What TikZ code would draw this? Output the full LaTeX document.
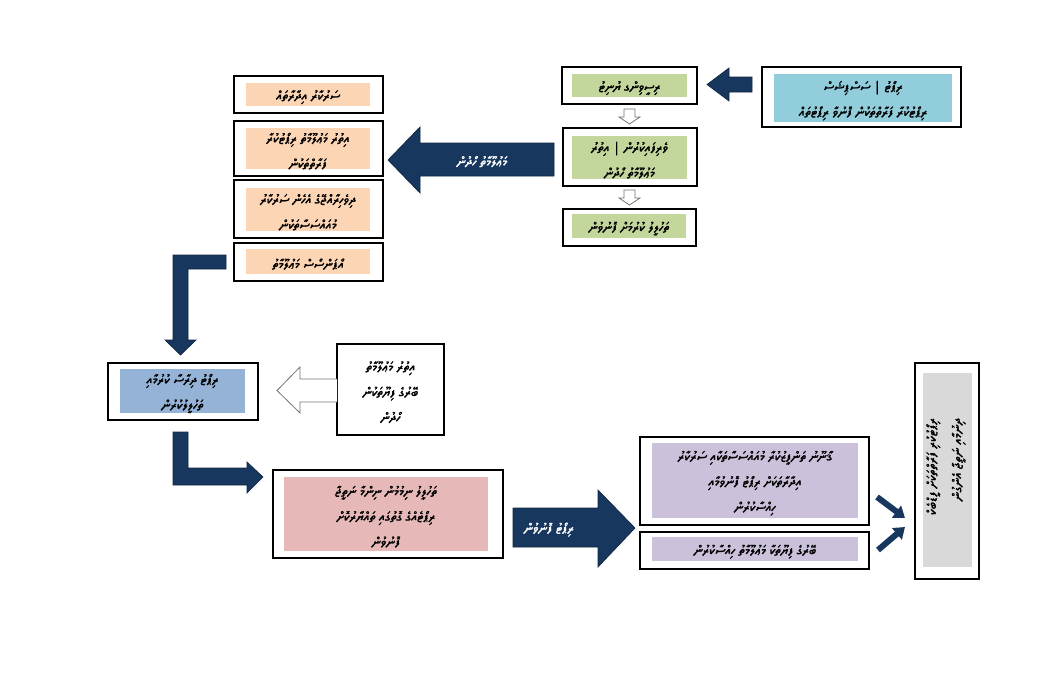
\documentclass[tikz,border=0pt]{standalone}
\usepackage{fontspec}
\usepackage{xcolor}
\usepackage{tikz}
\usetikzlibrary{positioning, calc, fit, arrows.meta}
\TeXXeTstate=1
\IfFontExistsTF{Noto Sans Thaana}
  {\newfontfamily\dvfont[Script=Thaana, AutoFakeBold=1.6]{Noto Sans Thaana}}
  {\newfontfamily\dvfont[Script=Thaana, AutoFakeBold=1.6]{FreeSerif}}
\newcommand{\thaana}[1]{\beginR #1\endR}

\definecolor{arrowblue}{HTML}{17375E}
\definecolor{aquafill}{HTML}{92CDDC}
\definecolor{greenfill}{HTML}{C3D69B}
\definecolor{orangefill}{HTML}{FCD5B5}
\definecolor{bluefill}{HTML}{95B3D7}
\definecolor{pinkfill}{HTML}{E6B9B8}
\definecolor{purplefill}{HTML}{CCC1DA}
\definecolor{grayfill}{HTML}{D9D9D9}

\tikzset{
  box/.style={draw=black, line width=0.8pt, inner sep=0pt},
  fillbox/.style={inner sep=0pt},
  dvtext/.style={inner sep=0pt, align=center, yshift=-2pt,
    font=\dvfont\bfseries\fontsize{10}{19}\selectfont},
  bigarrow/.style={fill=arrowblue, draw=arrowblue!70!black, line width=0.5pt},
  whitearrow/.style={fill=white, draw=black!55, line width=0.6pt},
  arrowtxt/.style={dvtext, text=white}
}

\begin{document}
\begin{tikzpicture}[x=0.75pt, y=-0.75pt]
    \useasboundingbox (0,0) rectangle (1037,693);

    % Reports coming in
    \node[box, fit={(762,67) (961,127)}] (rep) {};
    \node[fillbox, fill=aquafill, fit={(774,74) (952,122)}] (repfill) {};
    \node[dvtext] (reptxt) at (repfill.center)
      {\thaana{ރިޕޯޓު | ސަސްޕިޝަސް}\\\thaana{ރިޕޯޓުކުރާ ފަރާތްތަކުން ފޮނުވާ ރިޕޯޓުތައް}};

    % Green steps
    \node[box, fit={(562,67) (697,104)}] (recv) {};
    \node[fillbox, fill=greenfill, fit={(572,74) (687,97)}] (recvfill) {};
    \node[dvtext] (recvtxt) at (recvfill.center) {\thaana{ރިސީވިންގ ޔުނިޓު}};
    \node[box, fit={(563,128) (697,186)}] (check) {};
    \node[fillbox, fill=greenfill, fit={(572,136) (687,179)}] (checkfill) {};
    \node[dvtext] (checktxt) at (checkfill.center)
      {\thaana{ވެރިފައިކުރުން | އިތުރު}\\\thaana{މަޢުލޫމާތު ހޯދުން}};
    \node[box, fit={(563,209) (696,246)}] (send) {};
    \node[fillbox, fill=greenfill, fit={(572,214) (686,238)}] (sendfill) {};
    \node[dvtext] (sendtxt) at (sendfill.center) {\thaana{ތަހުލީލު ކުރުމަށް ފޮނުވުން}};

    % Orange sources
    \node[box, fit={(234,76) (383,113)}] (srca) {};
    \node[fillbox, fill=orangefill, fit={(246,83) (370,106)}] (srcafill) {};
    \node[dvtext] (srcatxt) at (srcafill.center) {\thaana{ސަރުކާރު އިދާރާތައް}};
    \node[box, fit={(234,121) (383,176)}] (srcb) {};
    \node[fillbox, fill=orangefill, fit={(246,128) (370,169)}] (srcbfill) {};
    \node[dvtext] (srcbtxt) at (srcbfill.center)
      {\thaana{އިތުރު މަޢުލޫމާތު ރިޕޯޓުކުރާ}\\\thaana{ފަރާތްތަކުން}};
    \node[box, fit={(234,180) (383,238)}] (srcc) {};
    \node[fillbox, fill=orangefill, fit={(246,188) (370,231)}] (srccfill) {};
    \node[dvtext] (srcctxt) at (srccfill.center)
      {\thaana{ދިވެހިރާއްޖޭގެ އެހެން ސަރުކާރު}\\\thaana{މުއައްސަސާތަކުން}};
    \node[box, fit={(234,243) (383,281)}] (srcd) {};
    \node[fillbox, fill=orangefill, fit={(246,249) (370,274)}] (srcdfill) {};
    \node[dvtext] (srcdtxt) at (srcdfill.center) {\thaana{އޯޕަންސޯސް މަޢުލޫމާތު}};

    % Analysis
    \node[box, fit={(108,363) (258,420)}] (anl) {};
    \node[fillbox, fill=bluefill, fit={(120,369) (245,413)}] (anlfill) {};
    \node[dvtext] (anltxt) at (anlfill.center)
      {\thaana{ރިޕޯޓު ދިރާސާ ކުރުމާއި}\\\thaana{ތަހުލީލުކުރުން}};
    \node[box, fit={(337,344) (444,435)}] (fiu) {};
    \node[dvtext] (fiutxt) at (fiu.center)
      {\thaana{އިތުރު މަޢުލޫމާތު}\\\thaana{ބޭރުގެ ފިޔޫތަކުން}\\\thaana{ހޯދުން}};

    % Decision
    \node[box, fit={(273,470) (503,558)}] (dec) {};
    \node[fillbox, fill=pinkfill, fit={(284,477) (488,551)}] (decfill) {};
    \node[dvtext] (dectxt) at (decfill.center)
      {\thaana{ތަހުލީލު ނިމުމުން ނިންމާ ނަތީޖާ}\\\thaana{ރިޕޯޓެއްގެ ގޮތުގައި ތައްޔާރުކޮށް}\\\thaana{ފޮނުވުން}};

    % Receivers
    \node[box, fit={(640,437) (869,525)}] (lea) {};
    \node[fillbox, fill=purplefill, fit={(652,443) (858,518)}] (leafill) {};
    \node[dvtext] (leatxt) at (leafill.center)
      {\thaana{ޤާނޫނު ތަންފީޒުކުރާ މުއައްސަސާތަކާއި ސަރުކާރު}\\\thaana{އިދާރާތަކަށް ރިޕޯޓު ފޮނުވުމާއި}\\\thaana{ހިއްސާކުރުން}};
    \node[box, fit={(640,532) (869,569)}] (ffiu) {};
    \node[fillbox, fill=purplefill, fit={(652,537) (858,561)}] (ffiufill) {};
    \node[dvtext] (ffiutxt) at (ffiufill.center)
      {\thaana{ބޭރުގެ ފިޔޫތަކާ މަޢުލޫމާތު ހިއްސާކުރުން}};

    % Feedback
    \node[box, fit={(915,363) (979,579)}] (fb) {};
    \node[fillbox, fill=grayfill, fit={(923,373) (972,567)}] (fbfill) {};
    \node[dvtext, align=right, rotate=90, yshift=0pt] (fbtxt) at (946,464)
      {\thaana{ރިޕޯޓުކުރި ފަރާތްތަކަށް ފީޑްބެކް}\\\thaana{ދިނުމާއި ނަތީޖާ އެންގުން}};

    % Block arrows
    \filldraw[bigarrow] (752,77) -- (729,77) -- (729,68) -- (707,84.5)
      -- (729,101) -- (729,92) -- (752,92) -- cycle;
    \filldraw[whitearrow] (624,109) -- (635,109) -- (635,117) -- (640,117)
      -- (629.5,124) -- (619,117) -- (624,117) -- cycle;
    \filldraw[whitearrow] (624,190) -- (635,190) -- (635,198) -- (640,198)
      -- (629.5,205) -- (619,198) -- (624,198) -- cycle;
    \filldraw[bigarrow] (554,143) -- (420,143) -- (420,127) -- (388,160)
      -- (420,193) -- (420,176) -- (554,176) -- cycle;
    \node[arrowtxt] (reqtxt) at (482,159) {\thaana{މަޢުލޫމާތު ހޯދުން}};

    \filldraw[bigarrow] (226,255) -- (173,255) -- (173,340) -- (165,340)
      -- (180.5,355) -- (196,340) -- (188,340) -- (188,269) -- (226,269) -- cycle;
    \filldraw[whitearrow] (337,379) -- (300,379) -- (300,367) -- (277,390.5)
      -- (300,413) -- (300,402) -- (337,402);
    \filldraw[bigarrow] (173,432) -- (188,432) -- (188,468) -- (247,468)
      -- (247,462) -- (263,477) -- (247,493) -- (247,485) -- (173,485) -- cycle;

    \filldraw[bigarrow] (513,508) -- (598,508) -- (598,490) -- (635,528)
      -- (598,567) -- (598,547) -- (513,547) -- cycle;
    \node[arrowtxt] (distxt) at (549,527) {\thaana{ރިޕޯޓު ފޮނުވުން}};

    % Into feedback
    \coordinate (p1) at (877,497);
    \coordinate (q1) at (905,518);
    \coordinate (p2) at (878,550);
    \coordinate (q2) at (905,527);
    \draw[arrowblue, line width=4.5pt, -{Triangle[width=11pt, length=8pt]}] (p1) -- (q1);
    \draw[arrowblue, line width=4.5pt, -{Triangle[width=11pt, length=8pt]}] (p2) -- (q2);
\end{tikzpicture}
\end{document}
